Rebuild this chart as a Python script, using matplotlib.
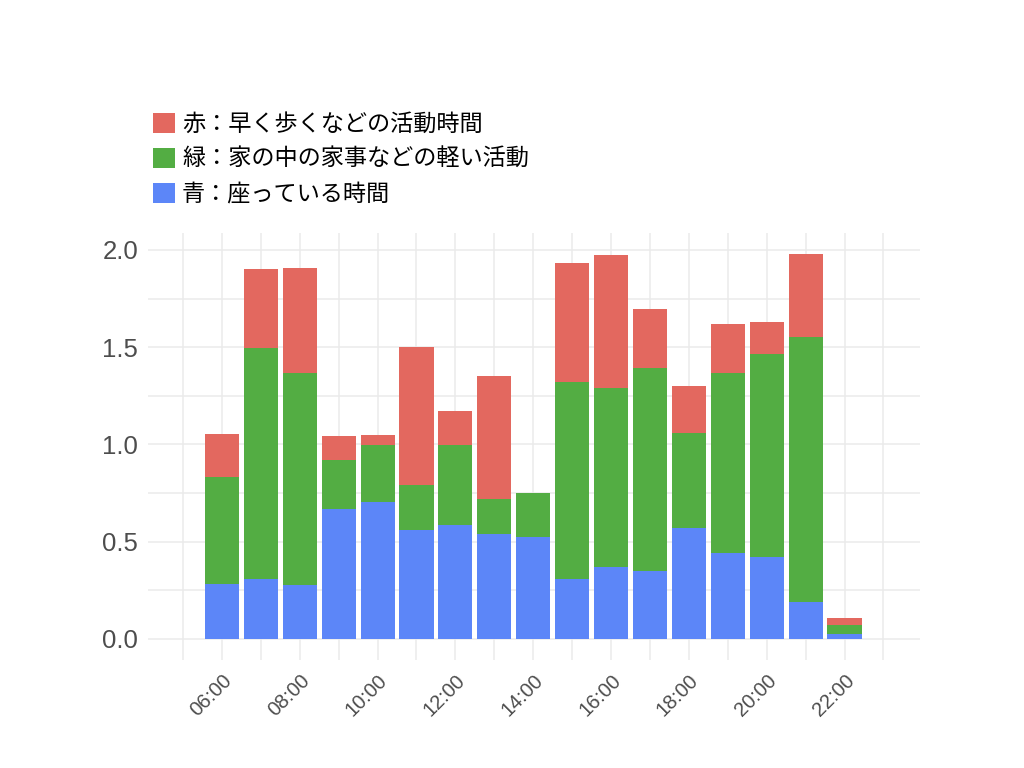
import matplotlib
matplotlib.use("Agg")
import matplotlib.pyplot as plt
from matplotlib.patches import Patch
import numpy as np

plt.rcParams['font.family'] = ['Liberation Sans', 'Noto Sans CJK JP', 'DejaVu Sans']

hours = [6, 7, 8, 9, 10, 11, 12, 13, 14, 15, 16, 17, 18, 19, 20, 21, 22]
blue = [0.283, 0.307, 0.276, 0.666, 0.705, 0.559, 0.585, 0.539, 0.525,
        0.306, 0.369, 0.352, 0.570, 0.443, 0.419, 0.191, 0.026]
green = [0.550, 1.190, 1.089, 0.252, 0.291, 0.232, 0.413, 0.183, 0.228,
         1.016, 0.922, 1.040, 0.487, 0.922, 1.047, 1.361, 0.045]
red = [0.219, 0.404, 0.540, 0.126, 0.053, 0.711, 0.173, 0.631, 0.0,
       0.609, 0.682, 0.302, 0.243, 0.254, 0.163, 0.426, 0.038]

labels = ['赤：早く歩くなどの活動時間', '緑：家の中の家事などの軽い活動', '青：座っている時間']
tick_hours = [6, 8, 10, 12, 14, 16, 18, 20, 22]
tick_labels = ['06:00', '08:00', '10:00', '12:00', '14:00', '16:00', '18:00', '20:00', '22:00']
y_ticks = [0.0, 0.5, 1.0, 1.5, 2.0]

c_red = '#e3685f'
c_green = '#53ad43'
c_blue = '#5c86f8'

fig = plt.figure(figsize=(10.24, 7.68), dpi=100)
ax = fig.add_axes([148/1024, 1-660/768, (920-148)/1024, (660-233)/768])

x = np.array(hours, dtype=float)
b = np.array(blue); g = np.array(green); r = np.array(red)
w = 0.875
ax.bar(x, b, width=w, color=c_blue, linewidth=0, zorder=3)
ax.bar(x, g, width=w, bottom=b, color=c_green, linewidth=0, zorder=3)
ax.bar(x, r, width=w, bottom=b+g, color=c_red, linewidth=0, zorder=3)

ax.set_xlim(4.1, 23.94)
ax.set_ylim(-0.108, 2.087)

ax.set_xticks(tick_hours)
ax.set_xticklabels(tick_labels, rotation=45, ha='right', va='top',
                   rotation_mode='anchor', fontsize=14.5, color='#4d4d4d')
ax.set_xticks(np.arange(5, 24, 1), minor=True)
ax.set_yticks(y_ticks)
ax.set_yticklabels(['%.1f' % v for v in y_ticks], fontsize=18.5, color='#4d4d4d')
ax.set_yticks(np.arange(0, 2.01, 0.25), minor=True)

ax.tick_params(axis='both', which='both', length=0)
ax.tick_params(axis='x', pad=8)
ax.tick_params(axis='y', pad=7)
ax.grid(True, which='both', color='#ebebeb', linewidth=1.1, zorder=0)
ax.set_axisbelow(True)
for s in ax.spines.values():
    s.set_visible(False)

handles = [Patch(facecolor=c_red), Patch(facecolor=c_green), Patch(facecolor=c_blue)]
fig.legend(handles, labels, loc='upper left', bbox_to_anchor=(153/1024, 1-113/768),
           frameon=False, prop={'family': ['Noto Sans CJK JP', 'DejaVu Sans'], 'size': 16.7},
           handlelength=0.95, handleheight=0.9, handletextpad=0.3,
           labelspacing=0.52, borderpad=0, borderaxespad=0)

fig.savefig('out.png', dpi=100, facecolor='white')
